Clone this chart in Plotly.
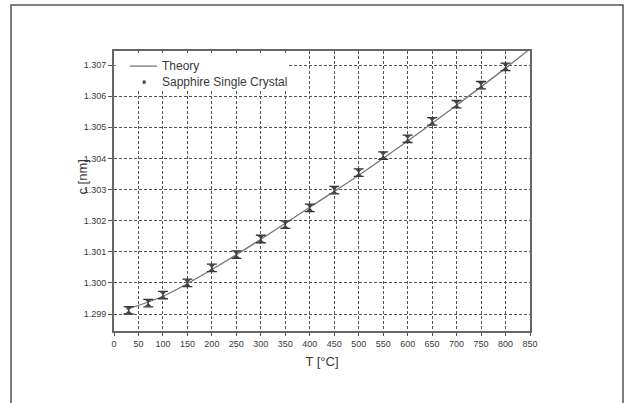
import plotly.graph_objects as go

temps = [30, 70, 100, 150, 200, 250, 300, 350, 400, 450, 500, 550, 600, 650, 700, 750, 800]
c_meas = [1.29912, 1.29935, 1.29961, 1.30000, 1.30048, 1.30091, 1.30141, 1.30187, 1.30241,
          1.30298, 1.30354, 1.30409, 1.30463, 1.30519, 1.30574, 1.30635, 1.30694]
c_err = [0.00012] * len(temps)

theory_T = [25, 100, 200, 300, 400, 500, 600, 700, 800, 850]
theory_c = [1.29915, 1.29957, 1.30043, 1.30140, 1.30243, 1.30346, 1.30456, 1.30571, 1.30690, 1.30752]

x_ticks = list(range(0, 851, 50))
y_ticks = [1.299, 1.300, 1.301, 1.302, 1.303, 1.304, 1.305, 1.306, 1.307]
legend_names = ["Theory", "Sapphire Single Crystal"]

GRAY = "#555555"
TXT = "#3a3a3a"
FONT = "Liberation Sans, Arial, sans-serif"

fig = go.Figure()
fig.add_trace(go.Scatter(x=theory_T, y=theory_c, mode="lines", name=legend_names[0],
                         line=dict(color="#777777", width=1.3, shape="spline")))
fig.add_trace(go.Scatter(x=temps, y=c_meas, mode="markers", name=legend_names[1],
                         marker=dict(symbol="hourglass", size=7, color="#444444"),
                         error_y=dict(type="data", array=c_err, visible=True,
                                      color="#333333", thickness=1.3, width=5)))

fig.update_layout(
    width=625, height=403,
    margin=dict(l=114, r=95, t=51, b=72),
    paper_bgcolor="white", plot_bgcolor="white",
    font=dict(family=FONT, color=TXT, size=9),
    showlegend=False,
    xaxis=dict(range=[0, 850], tickvals=x_ticks, ticks="outside", ticklen=3,
               tickcolor=GRAY, showline=True, linecolor="#666666", linewidth=2,
               mirror=True, showgrid=True, gridcolor=GRAY, gridwidth=1,
               griddash="3px,2px", zeroline=False,
               tickfont=dict(size=9, color=TXT),
               title=dict(text="T [°C]", font=dict(size=13, color=TXT), standoff=9)),
    xaxis2=dict(range=[0, 850], overlaying="x", side="top", tickvals=x_ticks,
                ticks="inside", ticklen=3, tickcolor=GRAY, showticklabels=False,
                showgrid=False, showline=False, zeroline=False),
    yaxis=dict(range=[1.298454, 1.30745], tickvals=y_ticks, tickformat=".3f",
               ticks="outside", ticklen=4, tickcolor=GRAY,
               showline=True, linecolor="#666666", linewidth=2, mirror=True,
               showgrid=True, gridcolor=GRAY, gridwidth=1, griddash="3px,2px",
               zeroline=False, tickfont=dict(size=9, color=TXT)),
)

# legend box (white, hides grid like in the original)
fig.add_shape(type="rect", xref="paper", yref="paper", x0=0.004, x1=0.418, y0=0.857, y1=0.993,
              fillcolor="white", line=dict(width=0), layer="above")
# legend samples
fig.add_shape(type="line", xref="paper", yref="paper", x0=0.0385, x1=0.1034, y0=0.946, y1=0.946,
              line=dict(color="#777777", width=1.3), layer="above")
fig.add_shape(type="rect", xref="paper", yref="paper", x0=0.069, x1=0.076, y0=0.883, y1=0.895,
              fillcolor="#444444", line=dict(width=0), layer="above")
fig.add_annotation(text=legend_names[0], x=0.1106, y=0.946, xref="paper", yref="paper",
                   xanchor="left", yanchor="middle", showarrow=False,
                   font=dict(size=12, color=TXT, family=FONT))
fig.add_annotation(text=legend_names[1], x=0.1106, y=0.890, xref="paper", yref="paper",
                   xanchor="left", yanchor="middle", showarrow=False,
                   font=dict(size=12, color=TXT, family=FONT))

fig.add_annotation(text="c [nm]", textangle=-90, x=-0.078, y=0.55,
                   xref="paper", yref="paper", xanchor="center", yanchor="middle",
                   showarrow=False, font=dict(size=13, color=TXT, family=FONT))

fig.add_shape(type="rect", xref="paper", yref="paper",
              x0=-0.2476, x1=1.2236, y0=-0.35, y1=1.1643,
              line=dict(color="#555555", width=1.5), layer="below")

fig.write_html("out.html", config={"displayModeBar": False},
               post_script="document.body.style.margin='0';")
